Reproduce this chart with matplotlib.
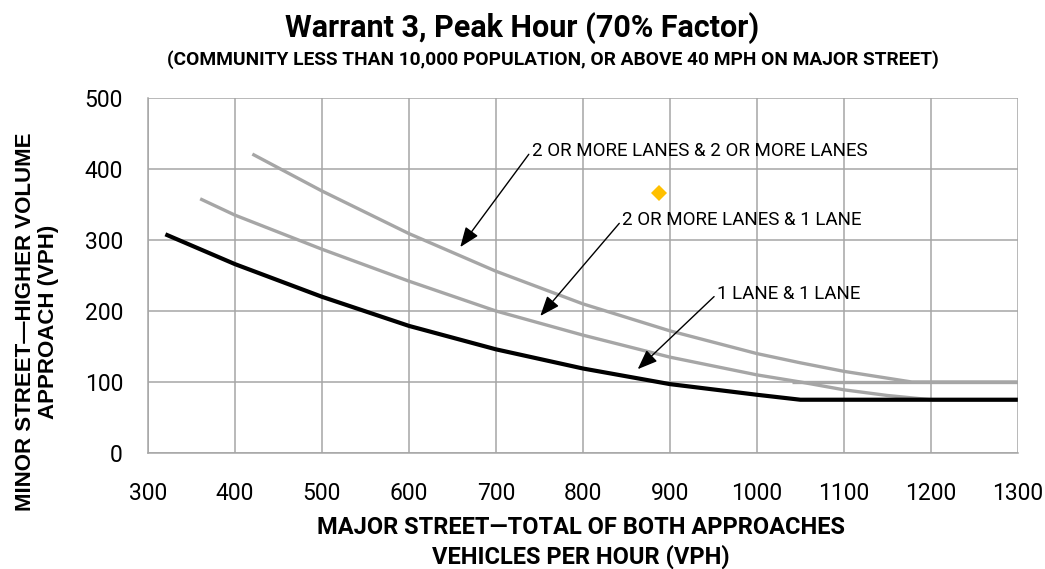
import matplotlib
matplotlib.use("Agg")
import matplotlib.pyplot as plt

# values (major street vph -> minor street vph)
one_one_x = [320, 400, 500, 600, 700, 800, 900, 1000, 1050, 1300]
one_one_y = [308, 266, 220, 179, 146, 119, 97, 82, 75, 75]

two_one_x = [360, 400, 500, 600, 700, 800, 900, 1000, 1050, 1100, 1150, 1200, 1300]
two_one_y = [358, 335, 287, 242, 200, 166, 135, 110, 100, 89, 81, 75, 75]

two_two_x = [420, 500, 600, 700, 800, 900, 1000, 1050, 1100, 1178, 1300]
two_two_y = [421, 369, 309, 256, 210, 172, 140, 127, 115, 100, 100]

threshold_x = [1040, 1300]
threshold_y = [100, 100]

point_x = [888]
point_y = [366]

x_ticks = list(range(300, 1301, 100))
y_ticks = list(range(0, 501, 100))

labels = ["2 OR MORE LANES & 2 OR MORE LANES", "2 OR MORE LANES & 1 LANE", "1 LANE & 1 LANE"]
label_pos = [(741, 426), (845, 328), (954, 224)]
arrow_tip = [(659, 290), (751, 193), (863, 118)]

GRAY = "#a6a6a6"
font = ["Roboto", "DejaVu Sans"]

fig = plt.figure(figsize=(10.45, 5.69), dpi=100)
ax = fig.add_axes([0.1416, 0.2039, 0.974 - 0.1416, 0.8278 - 0.2039])

ax.plot(threshold_x, threshold_y, color=GRAY, lw=2.4, solid_capstyle="butt", zorder=3)
ax.plot(two_two_x, two_two_y, color=GRAY, lw=2.4, solid_capstyle="butt", zorder=3)
ax.plot(two_one_x, two_one_y, color=GRAY, lw=2.4, solid_capstyle="butt", zorder=3)
ax.plot(one_one_x, one_one_y, color="black", lw=3, solid_capstyle="butt", zorder=4)
ax.plot(point_x, point_y, "D", color="#FFC000", markersize=8, markeredgewidth=0, zorder=5)

for text, (tx, ty), (hx, hy) in zip(labels, label_pos, arrow_tip):
    ax.annotate(text, xy=(hx, hy), xytext=(tx, ty), ha="left", va="center",
                fontsize=13.5, family=font,
                arrowprops=dict(arrowstyle="-|>,head_length=0.9,head_width=0.35",
                                color="black", lw=1, shrinkA=0, shrinkB=0,
                                relpos=(0, 0.5)))

ax.set_xlim(300, 1300)
ax.set_ylim(0, 500)
ax.set_xticks(x_ticks)
ax.set_yticks(y_ticks)
ax.grid(True, color=GRAY, lw=1.1)
ax.set_axisbelow(True)
for s in "top right".split():
    ax.spines[s].set_visible(False)
for s in "left bottom".split():
    ax.spines[s].set_color(GRAY)
    ax.spines[s].set_linewidth(1.1)
ax.tick_params(axis="both", length=0, labelsize=16.5)
ax.tick_params(axis="x", pad=21)
ax.tick_params(axis="y", pad=18)
for lab in ax.get_xticklabels() + ax.get_yticklabels():
    lab.set_family(font)

fig.text(0.5, 1 - 28 / 569, "Warrant 3, Peak Hour (70% Factor)", ha="center", va="center",
         fontsize=22, fontweight="bold", family=font)
fig.text(0.529, 1 - 60 / 569,
         "(COMMUNITY LESS THAN 10,000 POPULATION, OR ABOVE 40 MPH ON MAJOR STREET)",
         ha="center", va="center", fontsize=13.8, fontweight="bold", family=font)
fig.text(0.556, 1 - 527 / 569, "MAJOR STREET\u2014TOTAL OF BOTH APPROACHES", ha="center", va="center",
         fontsize=17, fontweight="bold", family=font)
fig.text(0.556, 1 - 557 / 569, "VEHICLES PER HOUR (VPH)", ha="center", va="center",
         fontsize=17, fontweight="bold", family=font)
fig.text(37 / 1045, 1 - 322 / 569, "MINOR STREET\u2014HIGHER VOLUME\nAPPROACH (VPH)", rotation=90,
         ha="center", va="center", multialignment="center", fontsize=16, fontweight="bold",
         linespacing=1.15, family=["Liberation Sans", "DejaVu Sans"])

fig.savefig("out.png", dpi=100)
